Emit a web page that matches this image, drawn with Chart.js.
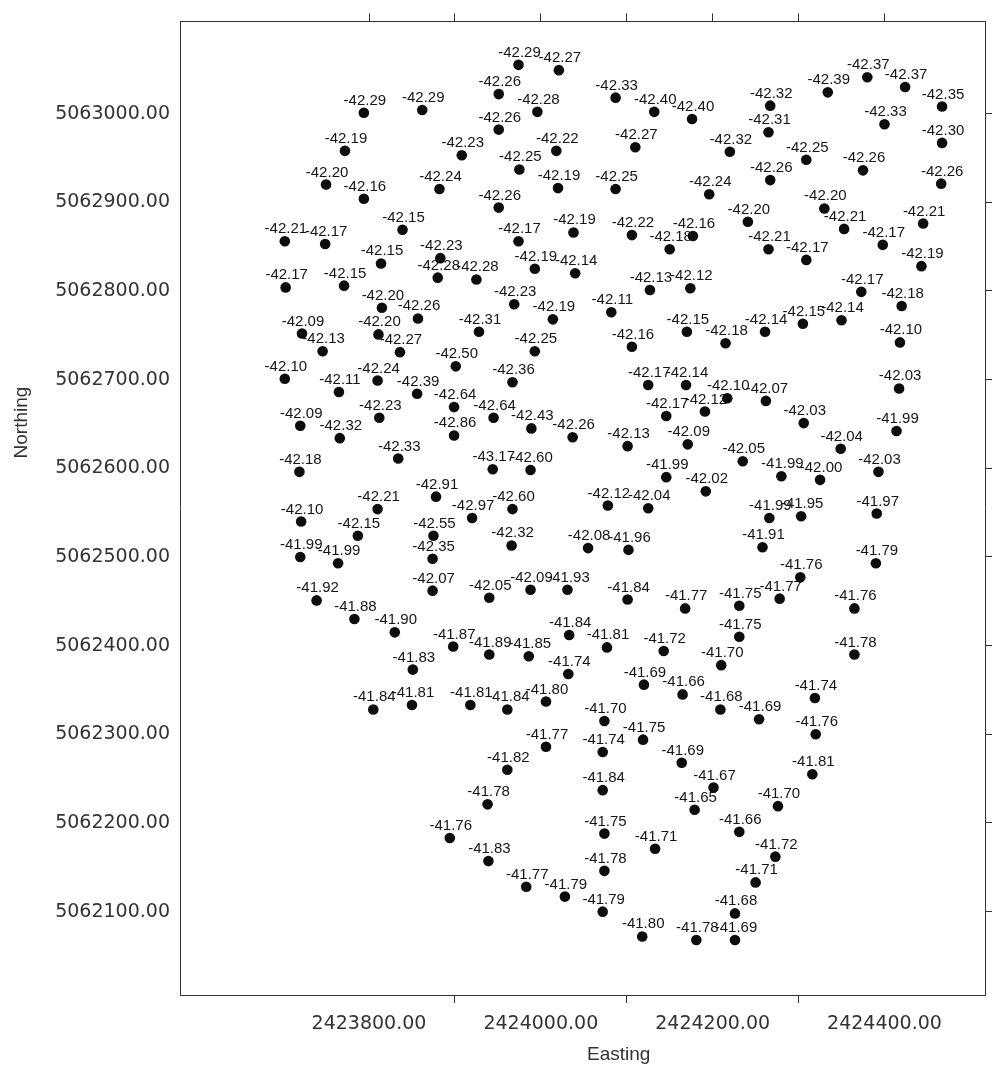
<!DOCTYPE html>
<html>
<head>
<meta charset="utf-8">
<title>Northing vs Easting</title>
<style>
  html, body { margin: 0; padding: 0; background: #fff; }
  #wrap { width: 993px; height: 1068px; }
</style>
<script src="https://cdn.jsdelivr.net/npm/chart.js@4.4.1/dist/chart.umd.min.js"></script>
</head>
<body>
<div id="wrap"><canvas id="chart" width="993" height="1068"></canvas></div>
<script>
const easting = [
  2423974, 2424021, 2424380, 2424334, 2424424, 2423951, 2424087, 2423794, 2423862, 2423996,
  2424132, 2424176, 2424267, 2424467, 2424400, 2423951, 2424265, 2423772, 2423908, 2424018,
  2424110, 2424220, 2424309, 2424467, 2423975, 2424375, 2424267, 2424466, 2423750, 2423882,
  2424020, 2424087, 2424196, 2423794, 2423951, 2424330, 2424241, 2424445, 2424353, 2423839,
  2424038, 2424106, 2424177, 2423974, 2423702, 2423749, 2424150, 2424265, 2424398, 2423883,
  2423814, 2424309, 2424443, 2423993, 2424040, 2423880, 2423925, 2423703, 2423771, 2424127,
  2424174, 2424373, 2423969, 2423815, 2424420, 2424082, 2423857, 2424014, 2424350, 2424305,
  2423928, 2423722, 2423811, 2424170, 2424261, 2424215, 2424418, 2424106, 2423746, 2423836,
  2423993, 2423901, 2423702, 2423810, 2423967, 2424125, 2424169, 2424417, 2423765, 2423856,
  2424217, 2424262, 2423899, 2424191, 2424146, 2423812, 2423945, 2424306, 2423720, 2423989,
  2424414, 2423899, 2424037, 2423766, 2424171, 2424101, 2424349, 2423834, 2424235, 2423944,
  2423988, 2423719, 2424393, 2424280, 2424146, 2424325, 2424192, 2423878, 2424078, 2424125,
  2423810, 2423967, 2424391, 2424303, 2423920, 2424266, 2423721, 2423787, 2423875, 2423966,
  2424258, 2424055, 2424102, 2423720, 2423874, 2423764, 2424390, 2424302, 2423874, 2423988,
  2424031, 2423940, 2424278, 2424101, 2423739, 2424231, 2424365, 2424168, 2423783, 2423830,
  2424033, 2424231, 2423898, 2424077, 2424143, 2423940, 2423986, 2424365, 2424210, 2423851,
  2424032, 2424120, 2424165, 2424319, 2424006, 2423918, 2423850, 2423805, 2423961, 2424209,
  2424254, 2424074, 2424320, 2424119, 2424006, 2424072, 2424164, 2423961, 2424316, 2424201,
  2424072, 2423938, 2424276, 2424179, 2424231, 2424074, 2423894, 2424133, 2424273, 2423939,
  2424074, 2424250, 2423983, 2424028, 2424072, 2424226, 2424118, 2424181, 2424226
];

const northing = [
  5063055, 5063049, 5063041, 5063024, 5063030, 5063022, 5063018, 5063001, 5063004, 5063002,
  5063002, 5062994, 5063009, 5063008, 5062988, 5062982, 5062979, 5062958, 5062953, 5062958,
  5062962, 5062957, 5062948, 5062967, 5062937, 5062936, 5062925, 5062921, 5062920, 5062915,
  5062916, 5062915, 5062909, 5062904, 5062894, 5062893, 5062878, 5062876, 5062870, 5062869,
  5062866, 5062863, 5062862, 5062856, 5062856, 5062853, 5062847, 5062847, 5062852, 5062837,
  5062831, 5062835, 5062828, 5062825, 5062820, 5062815, 5062813, 5062804, 5062806, 5062801,
  5062803, 5062799, 5062785, 5062781, 5062783, 5062776, 5062769, 5062768, 5062767, 5062763,
  5062754, 5062752, 5062751, 5062754, 5062754, 5062741, 5062742, 5062737, 5062732, 5062731,
  5062732, 5062715, 5062701, 5062699, 5062697, 5062694, 5062694, 5062690, 5062686, 5062684,
  5062679, 5062676, 5062669, 5062664, 5062659, 5062657, 5062657, 5062651, 5062648, 5062645,
  5062642, 5062637, 5062635, 5062634, 5062627, 5062625, 5062622, 5062611, 5062608, 5062599,
  5062598, 5062596, 5062596, 5062591, 5062590, 5062587, 5062574, 5062568, 5062558, 5062555,
  5062554, 5062554, 5062549, 5062546, 5062544, 5062544, 5062540, 5062524, 5062524, 5062513,
  5062511, 5062510, 5062508, 5062500, 5062498, 5062493, 5062493, 5062477, 5062462, 5062463,
  5062463, 5062454, 5062453, 5062452, 5062451, 5062445, 5062442, 5062442, 5062430, 5062415,
  5062412, 5062410, 5062399, 5062398, 5062394, 5062390, 5062388, 5062390, 5062378, 5062373,
  5062368, 5062356, 5062345, 5062341, 5062337, 5062333, 5062333, 5062328, 5062328, 5062328,
  5062317, 5062315, 5062300, 5062294, 5062286, 5062280, 5062268, 5062260, 5062255, 5062240,
  5062237, 5062221, 5062219, 5062215, 5062190, 5062188, 5062183, 5062171, 5062162, 5062157,
  5062146, 5062133, 5062128, 5062117, 5062100, 5062098, 5062072, 5062068, 5062068
];

const values = [
  -42.29, -42.27, -42.37, -42.39, -42.37, -42.26, -42.33, -42.29, -42.29, -42.28,
  -42.40, -42.40, -42.32, -42.35, -42.33, -42.26, -42.31, -42.19, -42.23, -42.22,
  -42.27, -42.32, -42.25, -42.30, -42.25, -42.26, -42.26, -42.26, -42.20, -42.24,
  -42.19, -42.25, -42.24, -42.16, -42.26, -42.20, -42.20, -42.21, -42.21, -42.15,
  -42.19, -42.22, -42.16, -42.17, -42.21, -42.17, -42.18, -42.21, -42.17, -42.23,
  -42.15, -42.17, -42.19, -42.19, -42.14, -42.28, -42.28, -42.17, -42.15, -42.13,
  -42.12, -42.17, -42.23, -42.20, -42.18, -42.11, -42.26, -42.19, -42.14, -42.15,
  -42.31, -42.09, -42.20, -42.15, -42.14, -42.18, -42.10, -42.16, -42.13, -42.27,
  -42.25, -42.50, -42.10, -42.24, -42.36, -42.17, -42.14, -42.03, -42.11, -42.39,
  -42.10, -42.07, -42.64, -42.12, -42.17, -42.23, -42.64, -42.03, -42.09, -42.43,
  -41.99, -42.86, -42.26, -42.32, -42.09, -42.13, -42.04, -42.33, -42.05, -43.17,
  -42.60, -42.18, -42.03, -41.99, -41.99, -42.00, -42.02, -42.91, -42.12, -42.04,
  -42.21, -42.60, -41.97, -41.95, -42.97, -41.99, -42.10, -42.15, -42.55, -42.32,
  -41.91, -42.08, -41.96, -41.99, -42.35, -41.99, -41.79, -41.76, -42.07, -42.09,
  -41.93, -42.05, -41.77, -41.84, -41.92, -41.75, -41.76, -41.77, -41.88, -41.90,
  -41.84, -41.75, -41.87, -41.81, -41.72, -41.89, -41.85, -41.78, -41.70, -41.83,
  -41.74, -41.69, -41.66, -41.74, -41.80, -41.81, -41.81, -41.84, -41.84, -41.68,
  -41.69, -41.70, -41.76, -41.75, -41.77, -41.74, -41.69, -41.82, -41.81, -41.67,
  -41.84, -41.78, -41.70, -41.65, -41.66, -41.75, -41.76, -41.71, -41.72, -41.83,
  -41.78, -41.71, -41.77, -41.79, -41.79, -41.68, -41.80, -41.78, -41.69
];

// labelled ticks and plain tick marks
const xTickLabels = [2423800, 2424000, 2424200, 2424400];
const xTickMarks = [2423800, 2423900, 2424000, 2424100, 2424200, 2424300, 2424400];
const yTickLabels = [5062100, 5062200, 5062300, 5062400, 5062500, 5062600, 5062700, 5062800, 5062900, 5063000];

const xRange = [2423580, 2424517];
const yRange = [5062006, 5063104];

const axisColor = '#333';
const tickFont = { family: '"DejaVu Sans", "Liberation Sans", sans-serif', size: 19 };

(function () {
  const points = easting.map((x, i) => ({ x: x, y: northing[i] }));

  const pointLabels = {
    id: 'pointLabels',
    beforeDatasetsDraw(chart) {
      const ctx = chart.ctx;
      const meta = chart.getDatasetMeta(0);
      ctx.save();
      ctx.font = '15px "Liberation Sans", Arial, sans-serif';
      ctx.fillStyle = '#151515';
      ctx.textAlign = 'center';
      ctx.textBaseline = 'alphabetic';
      meta.data.forEach((pt, i) => {
        ctx.fillText(values[i].toFixed(2), pt.x + 1, pt.y - 8);
      });
      ctx.restore();
    }
  };

  const axisTitles = {
    id: 'axisTitles',
    afterDraw(chart) {
      const ctx = chart.ctx;
      const area = chart.chartArea;
      ctx.save();
      ctx.font = '19px "Liberation Sans", Arial, sans-serif';
      ctx.fillStyle = axisColor;
      ctx.textAlign = 'center';
      ctx.textBaseline = 'middle';
      ctx.fillText('Easting', area.left + (area.right - area.left) * 0.545, 1055);
      ctx.translate(22, area.top + (area.bottom - area.top) * 0.412);
      ctx.rotate(-Math.PI / 2);
      ctx.fillText('Northing', 0, 0);
      ctx.restore();
    }
  };

  const fixed = (v) => Number(v).toFixed(2);

  new Chart(document.getElementById('chart'), {
    type: 'scatter',
    data: {
      datasets: [{
        data: points,
        pointRadius: 5.3,
        pointHoverRadius: 5.3,
        pointBackgroundColor: '#0d0d0d',
        pointBorderWidth: 0
      }]
    },
    options: {
      responsive: false,
      animation: false,
      devicePixelRatio: 1,
      events: [],
      layout: { padding: 0 },
      plugins: { legend: { display: false }, tooltip: { enabled: false } },
      scales: {
        x: {
          type: 'linear', position: 'bottom', min: xRange[0], max: xRange[1],
          afterBuildTicks: (s) => { s.ticks = xTickMarks.map((v) => ({ value: v })); },
          afterFit: (s) => { s.height = 73; },
          ticks: {
            autoSkip: false, maxRotation: 0, padding: 10, color: axisColor, font: tickFont,
            callback: (v) => (xTickLabels.includes(v) ? fixed(v) : '')
          },
          grid: {
            drawOnChartArea: false, drawTicks: true, tickLength: 8,
            color: (c) => (c.tick && xTickLabels.includes(c.tick.value) ? 'rgba(0,0,0,0)' : axisColor)
          },
          border: { display: true, color: axisColor, width: 1 }
        },
        xTop: {
          axis: 'x', type: 'linear', position: 'top', min: xRange[0], max: xRange[1],
          afterBuildTicks: (s) => { s.ticks = xTickMarks.map((v) => ({ value: v })); },
          afterFit: (s) => { s.height = 17; },
          ticks: { display: false },
          grid: { drawOnChartArea: false, drawTicks: true, tickLength: 8, color: axisColor },
          border: { display: true, color: axisColor, width: 1 }
        },
        y: {
          type: 'linear', position: 'left', min: yRange[0], max: yRange[1],
          afterBuildTicks: (s) => { s.ticks = yTickLabels.map((v) => ({ value: v })); },
          afterFit: (s) => { s.width = 180; },
          ticks: { padding: 10, color: axisColor, font: tickFont, callback: (v) => fixed(v) },
          grid: { drawOnChartArea: false, drawTicks: false },
          border: { display: true, color: axisColor, width: 1 }
        },
        yRight: {
          axis: 'y', type: 'linear', position: 'right', min: yRange[0], max: yRange[1],
          afterBuildTicks: (s) => { s.ticks = yTickLabels.map((v) => ({ value: v })); },
          afterFit: (s) => { s.width = 8; },
          ticks: { display: false },
          grid: { drawOnChartArea: false, drawTicks: true, tickLength: 7, color: axisColor },
          border: { display: true, color: axisColor, width: 1 }
        }
      }
    },
    plugins: [pointLabels, axisTitles]
  });
})();
</script>
</body>
</html>
